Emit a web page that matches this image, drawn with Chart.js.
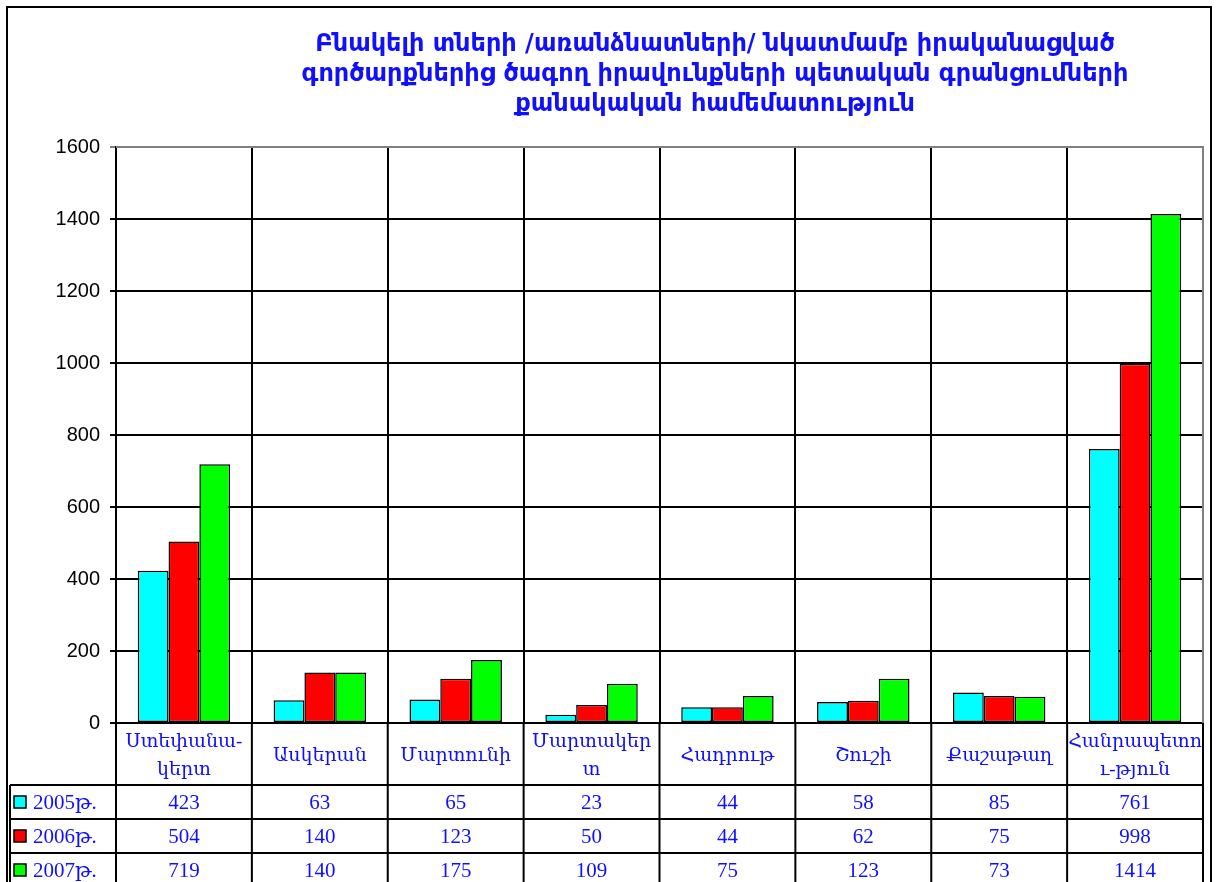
<!DOCTYPE html>
<html>
<head>
<meta charset="utf-8">
<script src="https://cdn.jsdelivr.net/npm/chart.js@4"></script>
<style>
    html, body { margin: 0; padding: 0; background: #fff; }
    canvas { display: block; }
</style>
</head>
<body>
<canvas id="graficoTransakcii" width="1217" height="882"></canvas>
<script>
const titulLines = [
    "Բնակելի տների /առանձնատների/ նկատմամբ իրականացված",
    "գործարքներից ծագող իրավունքների պետական գրանցումների",
    "քանակական համեմատություն"
];
const shrjanner = [
    ["Ստեփանա-", "կերտ"],
    "Ասկերան",
    "Մարտունի",
    ["Մարտակեր", "տ"],
    "Հադրութ",
    "Շուշի",
    "Քաշաթաղ",
    ["Հանրապետո", "ւ-թյուն"]
];
const tariner = ["2005թ.", "2006թ.", "2007թ."];
const tvyal2005 = [423, 63, 65, 23, 44, 58, 85, 761];
const tvyal2006 = [504, 140, 123, 50, 44, 62, 75, 998];
const tvyal2007 = [719, 140, 175, 109, 75, 123, 73, 1414];
const guyner = ["#00ffff", "#ff0000", "#00ff00"];
const yMax = 1600;
const yStep = 200;

const kapuyt = "#1010ff";
const serifFont = "'Liberation Serif', 'DejaVu Serif', serif";

// table under the axis + title + frame
const aghyusakPlugin = {
    id: "aghyusak",
    afterDraw(chart) {
        const ctx = chart.ctx;
        const area = chart.chartArea;
        const x = chart.scales.x;
        const shark = [tvyal2005, tvyal2006, tvyal2007];
        const rowTop = 785, rowH = 34;
        ctx.save();

        // title
        ctx.fillStyle = kapuyt;
        ctx.font = "bold 24px 'DejaVu Sans', sans-serif";
        ctx.textAlign = "center";
        ctx.textBaseline = "middle";
        titulLines.forEach((t, i) => ctx.fillText(t, 715, 45 + i * 30));

        // plot frame right/top in gray
        ctx.strokeStyle = "#808080";
        ctx.lineWidth = 2;
        ctx.beginPath();
        ctx.moveTo(area.left, area.top);
        ctx.lineTo(area.right, area.top);
        ctx.lineTo(area.right, area.bottom);
        ctx.stroke();

        // table grid
        ctx.strokeStyle = "#000";
        ctx.lineWidth = 2;
        const granic = [area.left];
        for (let i = 0; i < shrjanner.length - 1; i++) {
            granic.push((x.getPixelForTick(i) + x.getPixelForTick(i + 1)) / 2);
        }
        granic.push(area.right);
        ctx.beginPath();
        granic.forEach(gx => { ctx.moveTo(gx, area.bottom); ctx.lineTo(gx, 882); });
        ctx.moveTo(10, rowTop); ctx.lineTo(10, 882);
        for (let r = 0; r < 3; r++) {
            ctx.moveTo(10, rowTop + r * rowH);
            ctx.lineTo(area.right, rowTop + r * rowH);
        }
        ctx.stroke();

        // legend keys and values
        for (let r = 0; r < 3; r++) {
            const cy = rowTop + r * rowH + rowH / 2;
            ctx.fillStyle = guyner[r];
            ctx.fillRect(14, cy - 6, 12, 12);
            ctx.lineWidth = 1.5;
            ctx.strokeRect(14, cy - 6, 12, 12);
            ctx.fillStyle = kapuyt;
            ctx.font = "21px " + serifFont;
            ctx.textAlign = "left";
            ctx.fillText(tariner[r], 33, cy + 1);
            ctx.textAlign = "center";
            shark[r].forEach((v, i) => ctx.fillText(String(v), x.getPixelForTick(i), cy + 1));
        }

        // outer frame
        ctx.lineWidth = 2;
        ctx.strokeStyle = "#000";
        ctx.beginPath();
        ctx.moveTo(7, 882);
        ctx.lineTo(7, 7);
        ctx.lineTo(1211, 7);
        ctx.lineTo(1211, 882);
        ctx.stroke();
        ctx.restore();
    }
};

function sarqelDataset(label, data, color) {
    return {
        label: label,
        data: data,
        backgroundColor: color,
        borderColor: "#000",
        borderWidth: 1.5,
        borderSkipped: false,
        barPercentage: 1,
        categoryPercentage: 0.68
    };
}

new Chart(document.getElementById("graficoTransakcii"), {
    type: "bar",
    data: {
        labels: shrjanner,
        datasets: [
            sarqelDataset(tariner[0], tvyal2005, guyner[0]),
            sarqelDataset(tariner[1], tvyal2006, guyner[1]),
            sarqelDataset(tariner[2], tvyal2007, guyner[2])
        ]
    },
    options: {
        responsive: false,
        animation: false,
        layout: { padding: { left: 8, top: 147, right: 14, bottom: 97 } },
        plugins: {
            legend: { display: false },
            tooltip: { enabled: false }
        },
        scales: {
            x: {
                grid: { color: "#000", lineWidth: 2, drawTicks: false, offset: true },
                border: { color: "#000", width: 2 },
                ticks: {
                    color: kapuyt,
                    font: { family: serifFont, size: 19, lineHeight: 1.5 },
                    padding: 19,
                    crossAlign: "center",
                    maxRotation: 0,
                    autoSkip: false
                },
                afterFit(scale) {
                    scale.height = 62;
                    scale.paddingLeft = 0;
                    scale.paddingRight = 0;
                }
            },
            y: {
                min: 0,
                max: yMax,
                grid: {
                    color: c => (c.tick && c.tick.value === yMax ? "#808080" : "#000"),
                    lineWidth: 2,
                    tickLength: 6
                },
                border: { color: "#000", width: 2 },
                ticks: {
                    stepSize: yStep,
                    color: "#000",
                    font: { family: "'Liberation Sans', Arial, sans-serif", size: 20 },
                    padding: 10,
                    callback: v => String(v)
                },
                afterFit(scale) { scale.width = 108; }
            }
        }
    },
    plugins: [aghyusakPlugin]
});
</script>
</body>
</html>
